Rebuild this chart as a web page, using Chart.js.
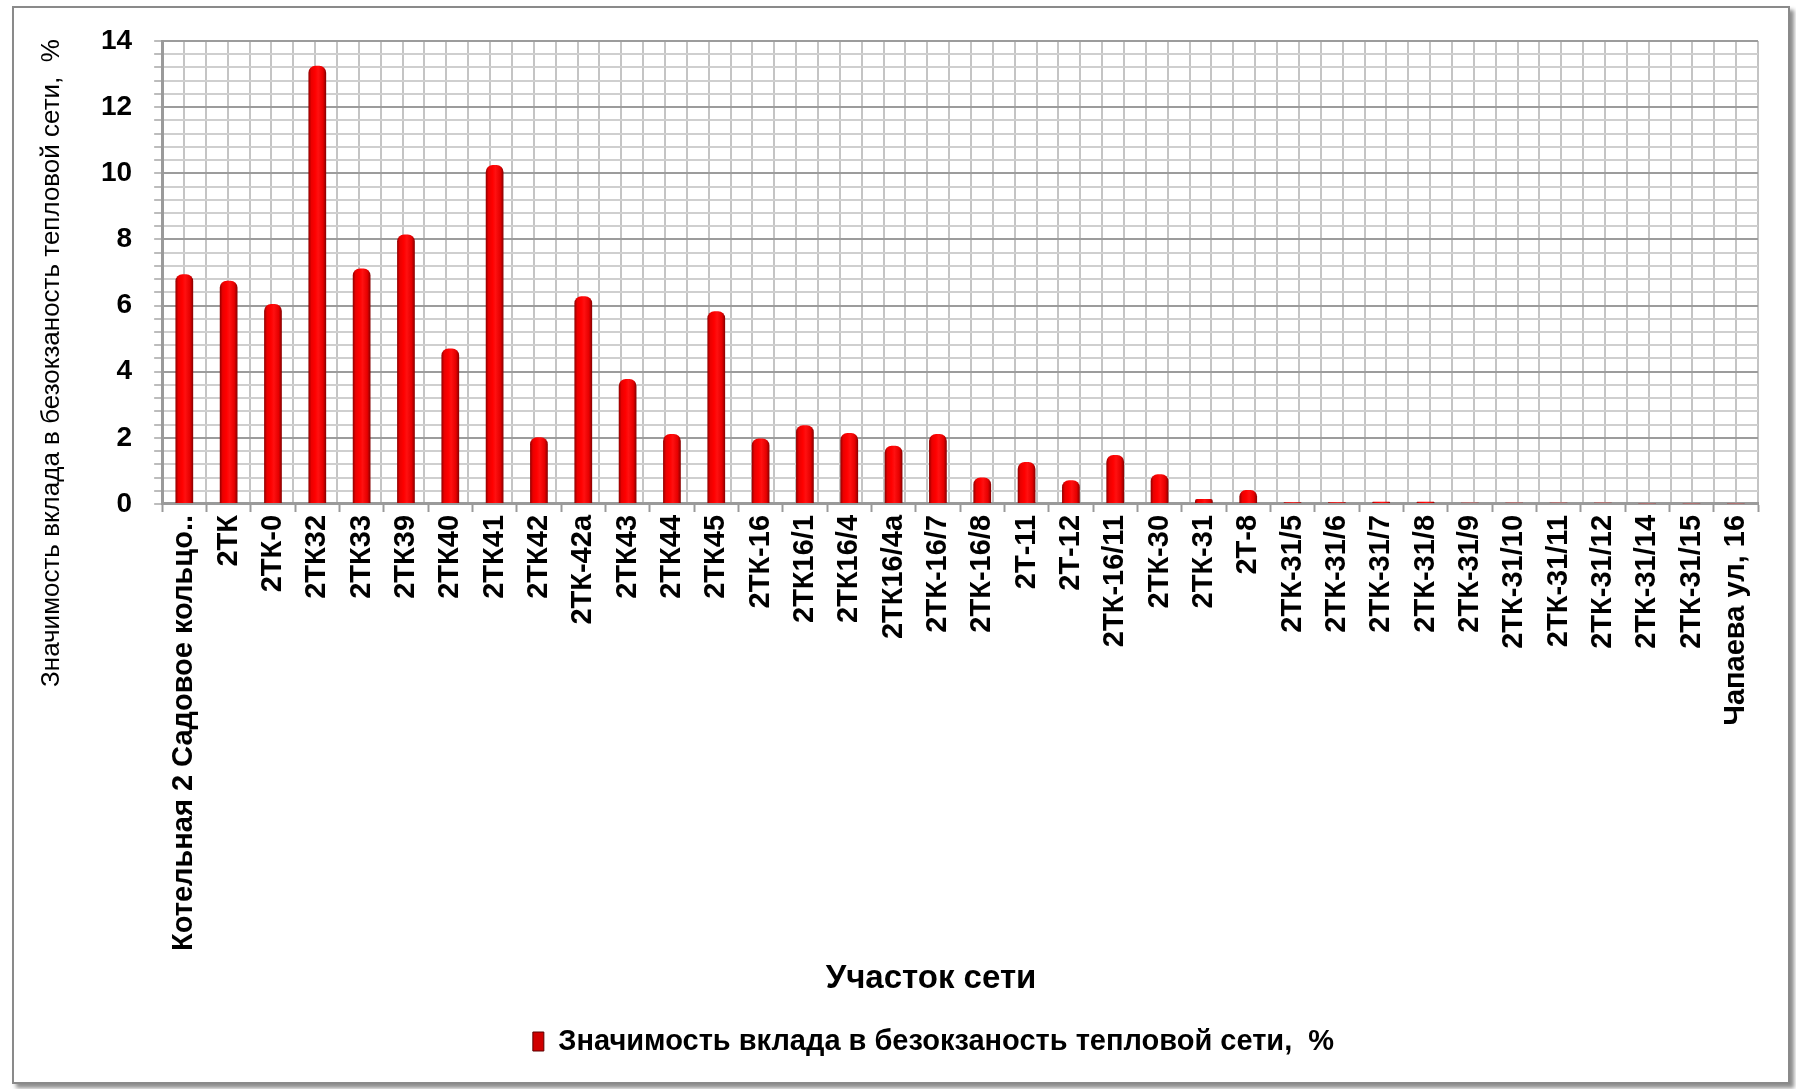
<!DOCTYPE html>
<html lang="ru">
<head>
<meta charset="utf-8">
<title>Значимость вклада в безокзаность тепловой сети</title>
<script src="https://cdn.jsdelivr.net/npm/chart.js@4.4.1/dist/chart.umd.min.js"></script>
<style>
    html, body { margin: 0; padding: 0; background: #fff; }
    .wrap { position: relative; width: 1796px; height: 1089px; overflow: hidden; }
    #grafico { position: absolute; left: 0; top: 0; }
    .ramka {
        position: absolute; left: 12px; top: 6px; width: 1774px; height: 1074px;
        border: 2px solid #8a8a8a;
        box-shadow: 4px 4px 4px rgba(0, 0, 0, 0.45);
        pointer-events: none;
    }
</style>
</head>
<body>
<div class="wrap">
    <canvas id="grafico" width="1796" height="1089"></canvas>
    <div class="ramka"></div>
</div>

<script>
// ====================================
// ДАННЫЕ
// ====================================
const uchastki = [
    'Котельная 2 Садовое кольцо..', '2ТК', '2ТК-0', '2ТК32', '2ТК33', '2ТК39', '2ТК40', '2ТК41',
    '2ТК42', '2ТК-42а', '2ТК43', '2ТК44', '2ТК45', '2ТК-16', '2ТК16/1', '2ТК16/4', '2ТК16/4а',
    '2ТК-16/7', '2ТК-16/8', '2Т-11', '2Т-12', '2ТК-16/11', '2ТК-30', '2ТК-31', '2Т-8',
    '2ТК-31/5', '2ТК-31/6', '2ТК-31/7', '2ТК-31/8', '2ТК-31/9', '2ТК-31/10', '2ТК-31/11',
    '2ТК-31/12', '2ТК-31/14', '2ТК-31/15', 'Чапаева ул, 16'
];

const znachimost = [
    6.95, 6.75, 6.05, 13.25, 7.12, 8.15, 4.7, 10.25,
    2.02, 6.28, 3.78, 2.12, 5.83, 1.98, 2.38, 2.15, 1.76,
    2.12, 0.8, 1.27, 0.72, 1.48, 0.9, 0.15, 0.42,
    0.05, 0.05, 0.07, 0.07, 0.04, 0.04, 0.04,
    0.04, 0.02, 0.02, 0.02
];

const metkiY = [0, 2, 4, 6, 8, 10, 12, 14];
const shagSetki = 0.4;

const NAZVANIE_RYADA = 'Значимость вклада в безокзаность тепловой сети,  %';
const NAZVANIE_X = 'Участок сети';
const NAZVANIE_Y = 'Значимость вклада в безокзаность тепловой сети,  %';

const SHRIFT = '"Liberation Sans", Arial, sans-serif';
const DOLYA_STOLBCA = 0.4;
const MESTO_POD_NAZVANIE_X = 63;

// ====================================
// ВСПОМОГАТЕЛЬНОЕ
// ====================================
function glavnayaMetka(v) {
    return metkiY.some(m => Math.abs(m - v) < 1e-6);
}

// цилиндрическая заливка столбца
function zalivkaStolbca(context) {
    const chart = context.chart;
    const osX = chart.scales.x;
    if (!osX || context.dataIndex === undefined) return '#f00000';
    const centr = osX.getPixelForValue(context.dataIndex);
    const w = osX.width / uchastki.length * DOLYA_STOLBCA;
    const g = chart.ctx.createLinearGradient(centr - w / 2, 0, centr + w / 2, 0);
    g.addColorStop(0, '#8e0000');
    g.addColorStop(0.16, '#ea0000');
    g.addColorStop(0.38, '#ff0000');
    g.addColorStop(0.55, '#ff1010');
    g.addColorStop(0.82, '#e60000');
    g.addColorStop(1, '#850000');
    return g;
}

// подписи осей рисуются отдельно (длинная подпись Y не помещается по центру оси)
const podpisiOsei = {
    id: 'podpisiOsei',
    afterDraw(chart) {
        const ctx = chart.ctx;
        const osX = chart.scales.x;

        ctx.save();
        ctx.fillStyle = '#000';
        ctx.textAlign = 'center';
        ctx.textBaseline = 'middle';

        ctx.font = 'bold 33px ' + SHRIFT;
        ctx.fillText(NAZVANIE_X, 931, osX.bottom - MESTO_POD_NAZVANIE_X / 2 - 7);

        ctx.translate(52, 363);
        ctx.rotate(-Math.PI / 2);
        ctx.font = '26px ' + SHRIFT;
        ctx.fillText(NAZVANIE_Y, 0, 0);
        ctx.restore();
    }
};

// ====================================
// ГРАФИК
// ====================================
document.addEventListener('DOMContentLoaded', function() {
    postroitGrafik();
});

function postroitGrafik() {
    const ctx = document.getElementById('grafico');

    new Chart(ctx, {
        type: 'bar',
        data: {
            labels: uchastki,
            datasets: [{
                label: NAZVANIE_RYADA,
                data: znachimost,
                xAxisID: 'x',
                yAxisID: 'y',
                backgroundColor: zalivkaStolbca,
                borderWidth: 0,
                borderRadius: { topLeft: 7, topRight: 7, bottomLeft: 0, bottomRight: 0 },
                borderSkipped: 'start',
                categoryPercentage: 1,
                barPercentage: DOLYA_STOLBCA
            }]
        },
        options: {
            responsive: false,
            animation: false,
            layout: {
                padding: { left: 79, right: 8, top: 41, bottom: 23 }
            },
            plugins: {
                tooltip: { enabled: false },
                legend: {
                    position: 'bottom',
                    labels: {
                        color: '#000',
                        font: { family: SHRIFT, size: 29, weight: 'bold' },
                        boxWidth: 11,
                        boxHeight: 19,
                        padding: 10,
                        generateLabels: (chart) => [{
                            text: chart.data.datasets[0].label,
                            fillStyle: '#d00000',
                            strokeStyle: '#5a0000',
                            lineWidth: 1,
                            hidden: false,
                            datasetIndex: 0
                        }]
                    }
                }
            },
            scales: {
                x: {
                    offset: true,
                    grid: {
                        offset: true,
                        drawOnChartArea: false,
                        drawTicks: true,
                        tickLength: 8,
                        tickColor: '#9a9a9a',
                        tickWidth: 2
                    },
                    border: { color: '#9a9a9a', width: 3 },
                    ticks: {
                        autoSkip: false,
                        minRotation: 90,
                        maxRotation: 90,
                        padding: 3,
                        color: '#000',
                        font: { family: SHRIFT, size: 29, weight: 'bold' }
                    },
                    // место под подпись «Участок сети»
                    afterFit(scale) {
                        scale.height += MESTO_POD_NAZVANIE_X;
                    }
                },
                // вспомогательная ось: вертикальная сетка через пол-категории
                xg: {
                    type: 'linear',
                    position: 'top',
                    min: 0,
                    max: uchastki.length * 2,
                    ticks: { display: false, stepSize: 1, autoSkip: false },
                    grid: { color: '#c4c4c4', lineWidth: 2, drawTicks: false },
                    border: { display: false }
                },
                y: {
                    min: metkiY[0],
                    max: metkiY[metkiY.length - 1],
                    ticks: {
                        stepSize: shagSetki,
                        autoSkip: false,
                        padding: 22,
                        color: '#000',
                        font: { family: SHRIFT, size: 28, weight: 'bold' },
                        callback: (v) => glavnayaMetka(v) ? String(Math.round(v)) : ''
                    },
                    grid: {
                        color: (c) => glavnayaMetka(c.tick.value) ? '#9c9c9c' : '#cfcfcf',
                        lineWidth: 2,
                        tickLength: 8,
                        tickColor: '#a6a6a6',
                        tickWidth: 1.5
                    },
                    border: { color: '#9a9a9a', width: 3 }
                },
                // пустое поле справа от стенки (как в исходной диаграмме)
                yPole: {
                    type: 'linear',
                    position: 'right',
                    ticks: { display: false },
                    grid: { drawOnChartArea: false, drawTicks: false },
                    border: { display: false },
                    afterFit(scale) {
                        scale.width = 30;
                    }
                }
            }
        },
        plugins: [podpisiOsei]
    });
}
</script>
</body>
</html>
